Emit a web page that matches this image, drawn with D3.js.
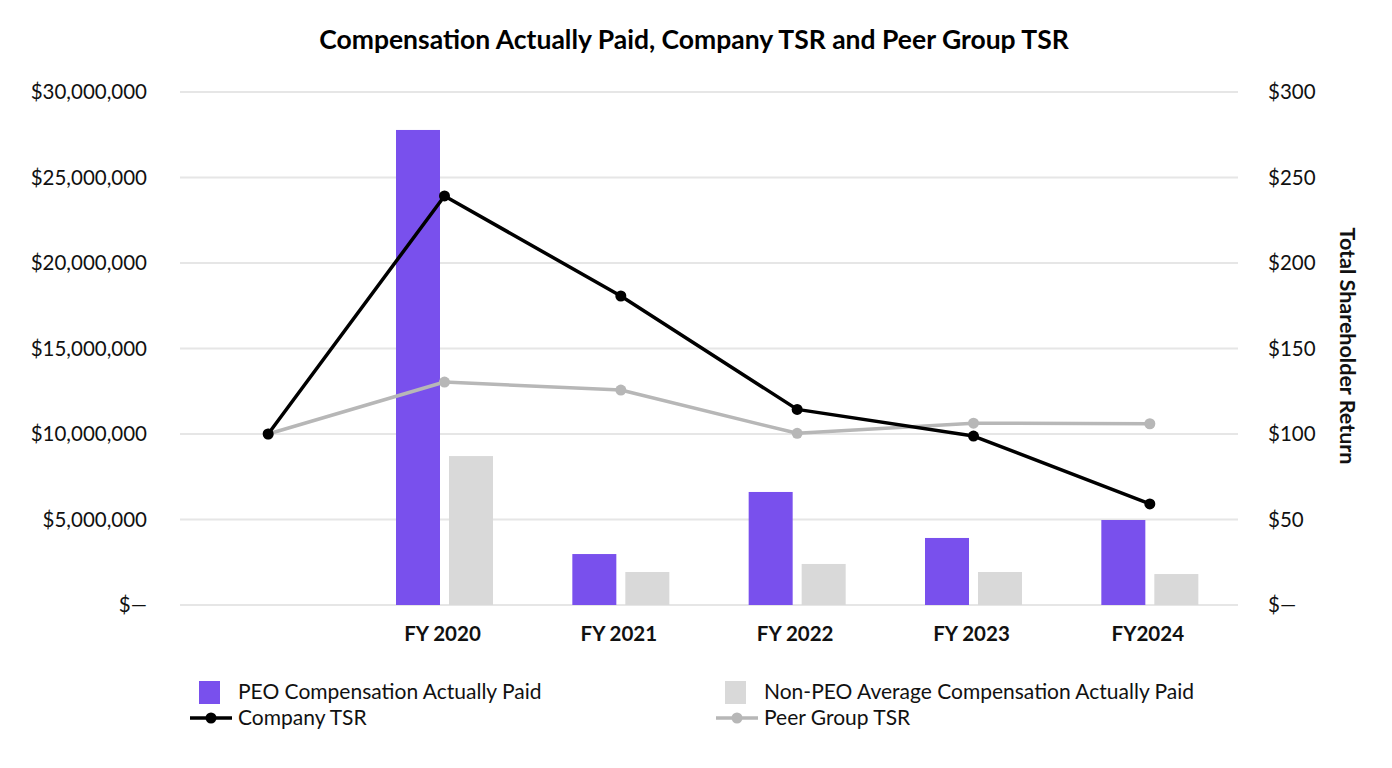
<!DOCTYPE html>
<html>
<head>
<meta charset="utf-8">
<script src="https://cdn.jsdelivr.net/npm/d3@7.9.0/dist/d3.min.js"></script>
<style>
  body { margin: 0; background: #fff; }
  svg { font-family: Lato, "Open Sans", sans-serif; }
</style>
</head>
<body>
<div id="chart"></div>
<script>
const categories = ["", "FY 2020", "FY 2021", "FY 2022", "FY 2023", "FY2024"];
const peoCap = [null, 27780000, 2980000, 6610000, 3920000, 4970000];
const nonPeoCap = [null, 8710000, 1930000, 2400000, 1930000, 1810000];
const companyTsr = [100, 239.2, 180.7, 114.4, 98.8, 59.1];
const peerTsr = [100, 130.4, 125.7, 100.4, 106.3, 106.0];
const leftTicks = [0, 5000000, 10000000, 15000000, 20000000, 25000000, 30000000];
const rightTicks = [0, 50, 100, 150, 200, 250, 300];

const width = 1392;
const height = 768;
const purple = "#7950ed";
const lightGray = "#d9d9d9";
const peerGray = "#b7b7b7";

const svg = d3.select("#chart")
  .append("svg")
  .attr("width", width)
  .attr("height", height);

const area = { left: 180, right: 1238, top: 92, bottom: 605 };

const x = d3.scaleBand()
  .domain(categories.map((d, i) => i))
  .range([area.left, area.right])
  .padding(0);

const yLeft = d3.scaleLinear().domain([0, 30000000]).range([area.bottom, area.top]);
const yRight = d3.scaleLinear().domain([0, 300]).range([area.bottom, area.top]);

// gridlines
svg.append("g")
  .selectAll("line")
  .data(leftTicks)
  .join("line")
  .attr("x1", area.left)
  .attr("x2", area.right)
  .attr("y1", (d) => yLeft(d))
  .attr("y2", (d) => yLeft(d))
  .attr("stroke", "#e6e6e6")
  .attr("stroke-width", 2);

const fmtMoney = (d) => d === 0 ? "$\u2014" : "$" + d3.format(",")(d);

// left axis
const leftAxis = svg.append("g")
  .attr("transform", `translate(${area.left - 33},0)`)
  .call(d3.axisLeft(yLeft).tickValues(leftTicks).tickFormat(fmtMoney).tickSize(0).tickPadding(0));
leftAxis.select(".domain").remove();
leftAxis.selectAll("text").attr("font-size", 20.5).attr("fill", "#111").attr("font-family", "Lato");

// right axis
const rightAxis = svg.append("g")
  .attr("transform", `translate(${area.right + 30},0)`)
  .call(d3.axisRight(yRight).tickValues(rightTicks).tickFormat(fmtMoney).tickSize(0).tickPadding(0));
rightAxis.select(".domain").remove();
rightAxis.selectAll("text").attr("font-size", 20.5).attr("fill", "#111").attr("font-family", "Lato");

// x labels
svg.append("g")
  .selectAll("text")
  .data(categories)
  .join("text")
  .attr("x", (d, i) => x(i) + x.bandwidth() / 2 - 2)
  .attr("y", 641)
  .attr("text-anchor", "middle")
  .attr("font-size", 20.5)
  .attr("font-weight", "bold")
  .attr("fill", "#111")
  .text((d) => d);

// bars
const barW = 44;
const gap = 9;
const bars = svg.append("g");
categories.forEach((c, i) => {
  if (peoCap[i] == null) return;
  const cx = x(i) + x.bandwidth() / 2;
  bars.append("rect")
    .attr("x", cx - gap / 2 - barW)
    .attr("y", yLeft(peoCap[i]))
    .attr("width", barW)
    .attr("height", yLeft(0) - yLeft(peoCap[i]))
    .attr("fill", purple);
  bars.append("rect")
    .attr("x", cx + gap / 2)
    .attr("y", yLeft(nonPeoCap[i]))
    .attr("width", barW)
    .attr("height", yLeft(0) - yLeft(nonPeoCap[i]))
    .attr("fill", lightGray);
});

// lines
const line = d3.line()
  .x((d, i) => x(i) + x.bandwidth() / 2)
  .y((d) => yRight(d));

function drawSeries(values, color) {
  svg.append("path")
    .datum(values)
    .attr("d", line)
    .attr("fill", "none")
    .attr("stroke", color)
    .attr("stroke-width", 3.5)
    .attr("stroke-linejoin", "round");
  svg.append("g")
    .selectAll("circle")
    .data(values)
    .join("circle")
    .attr("cx", (d, i) => x(i) + x.bandwidth() / 2)
    .attr("cy", (d) => yRight(d))
    .attr("r", 5.5)
    .attr("fill", color);
}
drawSeries(peerTsr, peerGray);
drawSeries(companyTsr, "#000");

// title
svg.append("text")
  .attr("x", 694)
  .attr("y", 49)
  .attr("text-anchor", "middle")
  .attr("font-size", 26.5)
  .attr("font-weight", "bold")
  .attr("fill", "#000")
  .text("Compensation Actually Paid, Company TSR and Peer Group TSR");

// right axis title
svg.append("text")
  .attr("transform", `translate(1340,346) rotate(90)`)
  .attr("text-anchor", "middle")
  .attr("font-size", 21.5)
  .attr("font-weight", "bold")
  .attr("fill", "#111")
  .text("Total Shareholder Return");

// legend
const legend = svg.append("g").attr("font-size", 21).attr("fill", "#111");
const legendItems = [
  { label: "PEO Compensation Actually Paid", type: "rect", color: purple, x: 199, y: 692 },
  { label: "Non-PEO Average Compensation Actually Paid", type: "rect", color: lightGray, x: 725, y: 692 },
  { label: "Company TSR", type: "line", color: "#000", x: 199, y: 718 },
  { label: "Peer Group TSR", type: "line", color: peerGray, x: 725, y: 718 }
];
legendItems.forEach((d) => {
  if (d.type === "rect") {
    legend.append("rect")
      .attr("x", d.x).attr("y", d.y - 11)
      .attr("width", 21).attr("height", 23)
      .attr("fill", d.color);
  } else {
    legend.append("line")
      .attr("x1", d.x - 9).attr("x2", d.x + 33)
      .attr("y1", d.y).attr("y2", d.y)
      .attr("stroke", d.color).attr("stroke-width", 3.5);
    legend.append("circle")
      .attr("cx", d.x + 12).attr("cy", d.y).attr("r", 5.5)
      .attr("fill", d.color);
  }
  legend.append("text")
    .attr("x", d.x + 39)
    .attr("y", d.y + 7)
    .text(d.label);
});
</script>
</body>
</html>
